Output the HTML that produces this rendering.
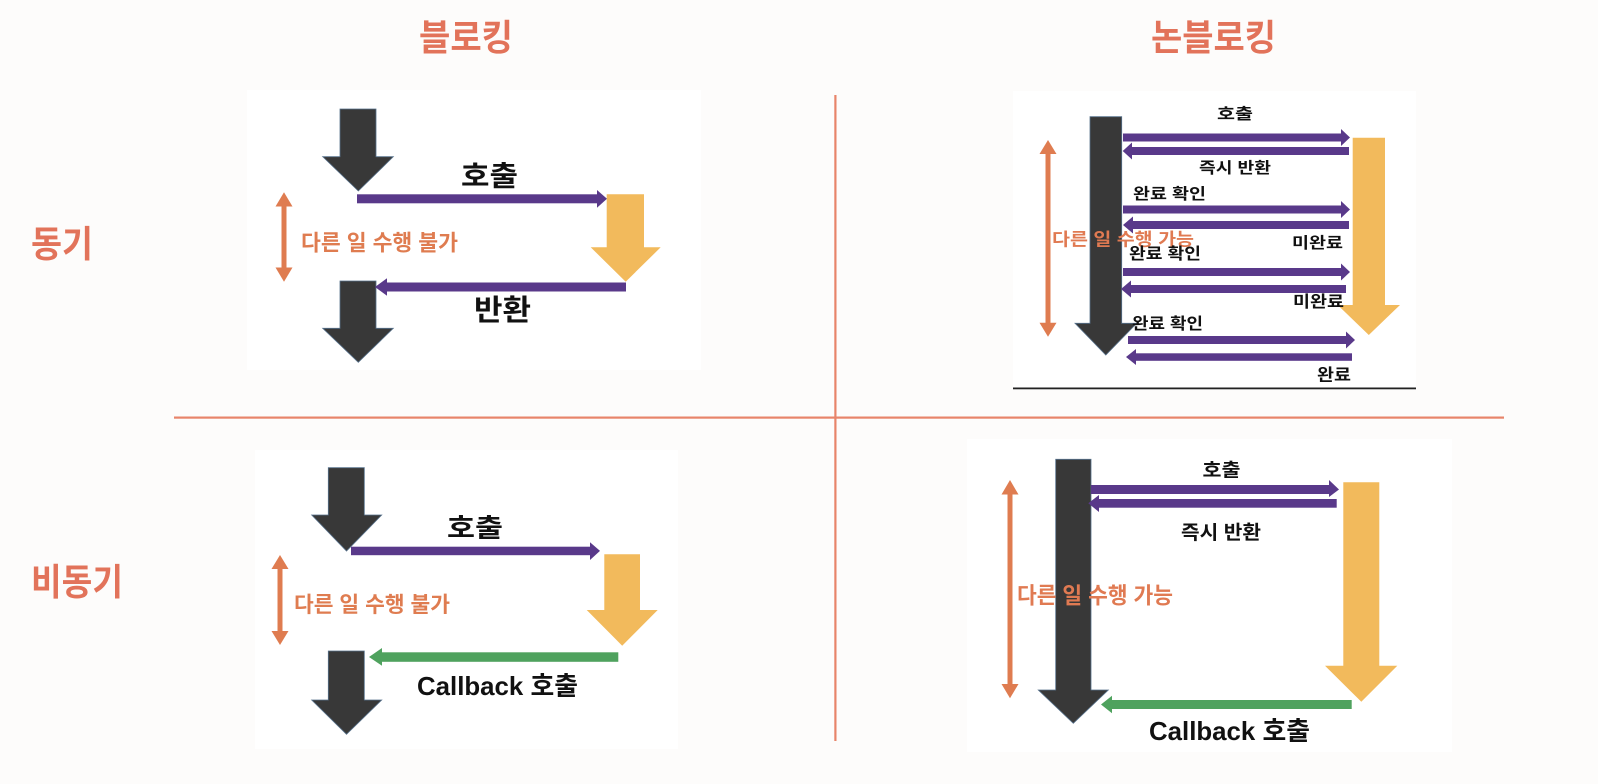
<!DOCTYPE html>
<html>
<head>
<meta charset="utf-8">
<style>
html,body{margin:0;padding:0;background:#FDFCFB;}
svg{display:block;}
text{font-family:"Liberation Sans","Noto Sans CJK KR",sans-serif;font-weight:bold;}
</style>
</head>
<body>
<svg width="1598" height="784" viewBox="0 0 1598 784" xmlns="http://www.w3.org/2000/svg">
<rect x="0" y="0" width="1598" height="784" fill="#FDFCFB"/>

<!-- headers -->
<text x="419" y="50" font-size="36" fill="#E2735A" textLength="94" lengthAdjust="spacingAndGlyphs">블로킹</text>
<text x="1151" y="50" font-size="36" fill="#E2735A" textLength="125" lengthAdjust="spacingAndGlyphs">논블로킹</text>
<text x="31" y="257" font-size="37" fill="#E2735A" textLength="62" lengthAdjust="spacingAndGlyphs">동기</text>
<text x="31" y="595" font-size="37" fill="#E2735A" textLength="92" lengthAdjust="spacingAndGlyphs">비동기</text>

<!-- dividers -->
<rect x="174" y="416.5" width="1330" height="2.2" fill="#E8846A"/>
<rect x="834.3" y="95" width="2.2" height="646" fill="#E8846A"/>

<!-- ================= Panel 1 ================= -->
<rect x="247" y="90" width="454" height="280" fill="#FFFFFF"/>
<polygon points="340,109 376,109 376,156.7 393.3,156.7 358.3,191 322.7,156.7 340,156.7" fill="#383838" stroke="#56708a" stroke-width="0.8"/>
<polygon points="340,281 376,281 376,328.3 393.3,328.3 358.3,362.3 322.7,328.3 340,328.3" fill="#383838" stroke="#56708a" stroke-width="0.8"/>
<polygon points="606.7,194.3 644,194.3 644,247.3 660.7,247.3 625.7,281.7 590.7,247.3 606.7,247.3" fill="#F2BA5C"/>
<rect x="357" y="194.3" width="241" height="9" fill="#59398A"/>
<polygon points="597,190 607,198.8 597,207.7" fill="#59398A"/>
<rect x="385" y="282.5" width="241" height="9" fill="#59398A"/>
<polygon points="387,278.3 375,287 387,295.7" fill="#59398A"/>
<rect x="281.5" y="205" width="5" height="64" fill="#DF7C50"/>
<polygon points="275.5,206.5 284,192.3 292.5,206.5" fill="#DF7C50"/>
<polygon points="275.5,267.5 284,281.7 292.5,267.5" fill="#DF7C50"/>
<text x="461" y="185.5" font-size="28" fill="#111" textLength="57" lengthAdjust="spacingAndGlyphs">호출</text>
<text x="301" y="250.3" font-size="22" fill="#DF7C50" textLength="157" lengthAdjust="spacingAndGlyphs">다른 일 수행 불가</text>
<text x="474" y="320" font-size="29" fill="#111" textLength="57" lengthAdjust="spacingAndGlyphs">반환</text>

<!-- ================= Panel 2 ================= -->
<rect x="1013" y="91" width="403" height="299" fill="#FFFFFF"/>
<polygon points="1090,116.7 1121.7,116.7 1121.7,323.3 1136.7,323.3 1105.8,355 1075,323.3 1090,323.3" fill="#383838" stroke="#56708a" stroke-width="0.8"/>
<polygon points="1352.7,137.7 1385,137.7 1385,305 1400,305 1368.8,335 1337.7,305 1352.7,305" fill="#F2BA5C"/>
<rect x="1045.5" y="152" width="5" height="172" fill="#DF7C50"/>
<polygon points="1039.5,154 1048,140 1056.5,154" fill="#DF7C50"/>
<polygon points="1039.5,322.7 1048,336.7 1056.5,322.7" fill="#DF7C50"/>
<g fill="#59398A">
<rect x="1123" y="133.5" width="218" height="8"/><polygon points="1341,129 1350,137.5 1341,146"/>
<rect x="1131" y="147" width="218" height="8"/><polygon points="1132,142.5 1122.7,151 1132,159.5"/>
<rect x="1123" y="205.5" width="218" height="8"/><polygon points="1341,201 1350,209.5 1341,218"/>
<rect x="1132" y="221" width="217" height="8"/><polygon points="1133,216.5 1123,225 1133,233.5"/>
<rect x="1123" y="268" width="218" height="8"/><polygon points="1341,263.5 1350,272 1341,280.5"/>
<rect x="1130" y="285" width="216" height="8"/><polygon points="1131,280.5 1121,289 1131,297.5"/>
<rect x="1128" y="336" width="218" height="8"/><polygon points="1346,331.5 1355,340 1346,348.5"/>
<rect x="1135" y="353.3" width="217" height="7.5"/><polygon points="1136,349 1126,357 1136,365"/>
</g>
<text x="1217" y="119" font-size="15.5" fill="#111" textLength="36" lengthAdjust="spacingAndGlyphs">호출</text>
<text x="1199" y="173" font-size="15.5" fill="#111" textLength="72" lengthAdjust="spacingAndGlyphs">즉시 반환</text>
<text x="1133" y="199" font-size="15.5" fill="#111" textLength="73" lengthAdjust="spacingAndGlyphs">완료 확인</text>
<text x="1292" y="248" font-size="15.5" fill="#111" textLength="51" lengthAdjust="spacingAndGlyphs">미완료</text>
<text x="1052" y="245.7" font-size="17.5" fill="#E07A52" textLength="142" lengthAdjust="spacingAndGlyphs">다른 일 수행 가능</text>
<text x="1129" y="259" font-size="16" fill="#111" textLength="72" lengthAdjust="spacingAndGlyphs">완료 확인</text>
<text x="1293" y="307" font-size="16" fill="#111" textLength="51" lengthAdjust="spacingAndGlyphs">미완료</text>
<text x="1132" y="329" font-size="16" fill="#111" textLength="71" lengthAdjust="spacingAndGlyphs">완료 확인</text>
<text x="1317" y="380.5" font-size="16.5" fill="#111" textLength="34" lengthAdjust="spacingAndGlyphs">완료</text>
<rect x="1013" y="387.5" width="403" height="1.8" fill="#222"/>

<!-- ================= Panel 3 ================= -->
<rect x="255" y="450" width="423" height="299" fill="#FFFFFF"/>
<polygon points="328.3,467.7 364.3,467.7 364.3,515 381.7,515 346.5,551 311.7,515 328.3,515" fill="#383838" stroke="#56708a" stroke-width="0.8"/>
<polygon points="328.3,651 364.3,651 364.3,700 381.7,700 346.5,734.3 311.7,700 328.3,700" fill="#383838" stroke="#56708a" stroke-width="0.8"/>
<polygon points="604.3,554.3 640,554.3 640,610 657.7,610 622.2,645.7 586.7,610 604.3,610" fill="#F2BA5C"/>
<rect x="351" y="546.7" width="240" height="8.5" fill="#59398A"/>
<polygon points="590,542.3 600,550.9 590,560" fill="#59398A"/>
<rect x="380" y="652.3" width="238.3" height="9.5" fill="#4FA25E"/>
<polygon points="382,648 369,657 382,665.7" fill="#4FA25E"/>
<rect x="277.5" y="568" width="5" height="64" fill="#DF7C50"/>
<polygon points="271.5,569 280,555 288.5,569" fill="#DF7C50"/>
<polygon points="271.5,631 280,645 288.5,631" fill="#DF7C50"/>
<text x="447" y="536.8" font-size="26" fill="#111" textLength="56" lengthAdjust="spacingAndGlyphs">호출</text>
<text x="294" y="612" font-size="21.5" fill="#DF7C50" textLength="156" lengthAdjust="spacingAndGlyphs">다른 일 수행 불가</text>
<text x="417" y="695" font-size="26" fill="#111" textLength="161" lengthAdjust="spacingAndGlyphs">Callback 호출</text>

<!-- ================= Panel 4 ================= -->
<rect x="967" y="439" width="485" height="313" fill="#FFFFFF"/>
<polygon points="1343.3,482.3 1379.3,482.3 1379.3,665.7 1397.3,665.7 1361.3,701.7 1325,665.7 1343.3,665.7" fill="#F2BA5C"/>
<polygon points="1055.7,459.3 1091,459.3 1091,690 1108.3,690 1073.3,723.3 1038.3,690 1055.7,690" fill="#383838" stroke="#56708a" stroke-width="0.8"/>
<rect x="1091" y="485" width="239" height="9" fill="#59398A"/>
<polygon points="1329,480 1339,489.5 1329,497" fill="#59398A"/>
<rect x="1098" y="499" width="238.7" height="8.7" fill="#59398A"/>
<polygon points="1099,495 1088.3,503.3 1099,512" fill="#59398A"/>
<rect x="1112" y="700" width="239.7" height="9" fill="#4FA25E"/>
<polygon points="1112,695.7 1101,704.5 1112,713.3" fill="#4FA25E"/>
<rect x="1007.5" y="493" width="5" height="192" fill="#DF7C50"/>
<polygon points="1001.5,494.5 1010,480 1018.5,494.5" fill="#DF7C50"/>
<polygon points="1001.5,684 1010,698.3 1018.5,684" fill="#DF7C50"/>
<text x="1202.5" y="476.6" font-size="18.6" fill="#111" textLength="38" lengthAdjust="spacingAndGlyphs">호출</text>
<text x="1181" y="539" font-size="19.4" fill="#111" textLength="80" lengthAdjust="spacingAndGlyphs">즉시 반환</text>
<text x="1017" y="603.7" font-size="22.5" fill="#E07A52" textLength="156" lengthAdjust="spacingAndGlyphs">다른 일 수행 가능</text>
<text x="1149" y="740" font-size="26" fill="#111" textLength="161" lengthAdjust="spacingAndGlyphs">Callback 호출</text>
</svg>
</body>
</html>
